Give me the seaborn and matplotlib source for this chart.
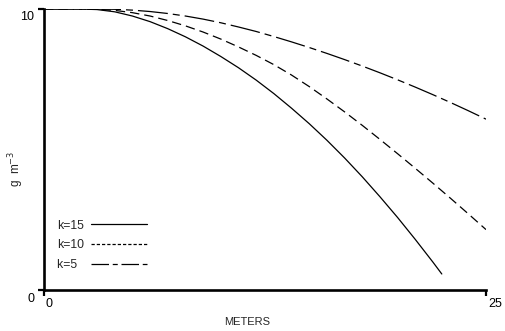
import matplotlib
matplotlib.use("Agg")
import matplotlib.pyplot as plt
import matplotlib.transforms as mtransforms
from matplotlib.lines import Line2D
import seaborn as sns
import pandas as pd

# Distance along the transect (m) and concentration (g m^-3) for three k values
x_k15 = [0, 2, 3, 4, 5, 6, 7, 8, 9, 10, 11, 12, 13, 14, 15, 16, 17, 18, 19,
         20, 21, 22, 22.5]
y_k15 = [10, 10, 9.98, 9.9, 9.75, 9.55, 9.3, 9.01, 8.68, 8.31, 7.91, 7.47,
         6.99, 6.47, 5.92, 5.33, 4.7, 4.03, 3.32, 2.58, 1.8, 0.99, 0.57]

x_k10 = [0, 2, 3, 4, 5, 6, 7, 8, 9, 10, 11, 12, 13, 14, 15, 16, 17, 18, 19,
         20, 21, 22, 23, 24, 25]
y_k10 = [10, 10, 9.99, 9.95, 9.87, 9.75, 9.59, 9.4, 9.18, 8.93, 8.65, 8.35,
         8.02, 7.65, 7.24, 6.8, 6.34, 5.86, 5.36, 4.85, 4.33, 3.8, 3.26, 2.71,
         2.15]

x_k5 = [0, 2, 3, 4, 5, 6, 7, 8, 9, 10, 11, 12, 13, 14, 15, 16, 17, 18, 19,
        20, 21, 22, 23, 24, 25]
y_k5 = [10, 10, 10, 9.99, 9.96, 9.91, 9.84, 9.75, 9.64, 9.51, 9.36, 9.2,
        9.02, 8.83, 8.63, 8.42, 8.2, 7.97, 7.73, 7.48, 7.22, 6.95, 6.67, 6.38,
        6.08]

labels = ["k=15", "k=10", "k=5"]
x_ticks = [0, 25]
y_ticks = [0, 10]

sns.set_theme(style="white")
plt.rcParams["font.family"] = ["Liberation Sans", "DejaVu Sans"]

fig = plt.figure(figsize=(5.05, 3.31), dpi=100)
ax = fig.add_axes([44 / 505, 41 / 331, 442 / 505, 281 / 331])

lw = 0.9
line_styles = {
    "k=15": None,
    "k=10": (7.5, 4.0),
    "k=5": (24.0, 4.0, 5.6, 4.0),
}
series = [(x_k15, y_k15), (x_k10, y_k10), (x_k5, y_k5)]
for lab, (xs, ys) in zip(labels, series):
    df = pd.DataFrame({"m": xs, "c": ys})
    sns.lineplot(data=df, x="m", y="c", ax=ax, color="black", lw=lw,
                 legend=False)
    dash = line_styles[lab]
    if dash is not None:
        ax.lines[-1].set_dashes(dash)

ax.set_xlim(0, 25)
ax.set_ylim(0, 10)
ax.set_xticks(x_ticks)
ax.set_yticks(y_ticks)
ax.set_xticklabels([str(v) for v in x_ticks], fontsize=9)
ax.set_yticklabels([str(v) for v in y_ticks], fontsize=9)

for side in ("top", "right"):
    ax.spines[side].set_visible(False)
for side in ("left", "bottom"):
    ax.spines[side].set_linewidth(1.9)
    ax.spines[side].set_color("black")

ax.tick_params(axis="both", direction="out", length=4, width=1.6,
               color="black", labelcolor="black", left=True, bottom=True)
ax.tick_params(axis="x", pad=2)
ax.tick_params(axis="y", pad=3)

# x labels sit right of their ticks, y labels a little below theirs
for t in ax.get_xticklabels():
    t.set_horizontalalignment("left")
    t.set_transform(t.get_transform() +
                    mtransforms.ScaledTranslation(2 / 100, 0, fig.dpi_scale_trans))
for t in ax.get_yticklabels():
    t.set_transform(t.get_transform() +
                    mtransforms.ScaledTranslation(0, -7 / 100, fig.dpi_scale_trans))

ax.set_xlabel("METERS", fontsize=8)
ax.xaxis.set_label_coords(0.46, -0.095)
ax.set_ylabel("g  m$^{-3}$", fontsize=8.5)
ax.yaxis.set_label_coords(-0.041, 0.43)

handles = [
    Line2D([], [], color="black", lw=lw),
    Line2D([], [], color="black", lw=lw, dashes=(2.6, 1.6)),
    Line2D([], [], color="black", lw=lw, dashes=(14, 3, 4, 3)),
]
# pad the short label with a figure space so all labels share one width
legend_labels = [lab if len(lab) == 4 else lab + "\u2007" for lab in labels]
ax.legend(handles, legend_labels, loc="upper left",
          bbox_to_anchor=(0.029, 0.25), frameon=False, markerfirst=False,
          fontsize=8.8, handlelength=4.6, handletextpad=0.6,
          labelspacing=0.62, borderpad=0, borderaxespad=0)

fig.savefig("out.png", dpi=100, facecolor="white")
